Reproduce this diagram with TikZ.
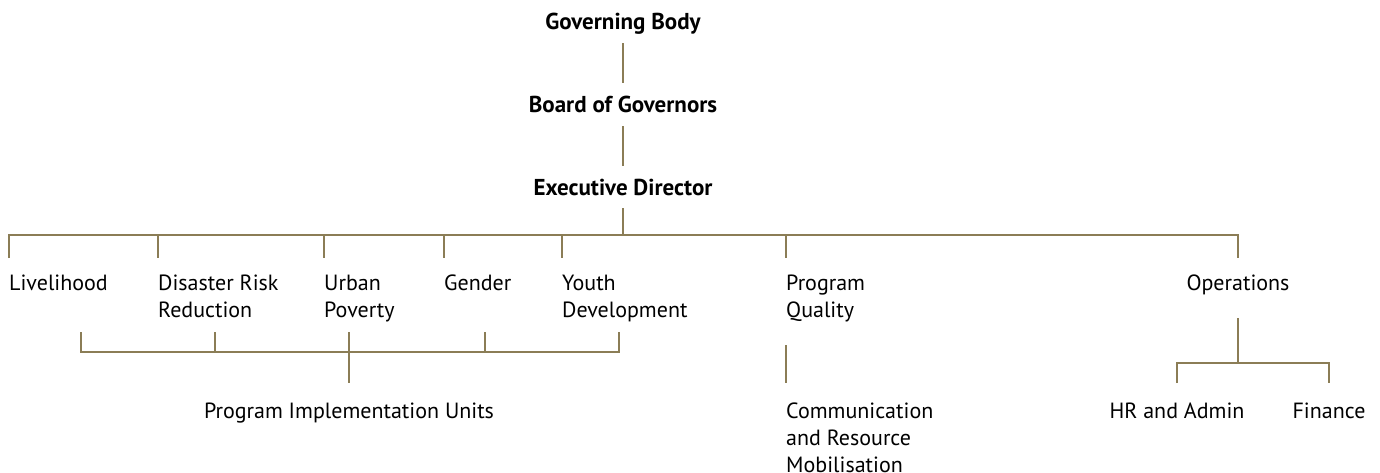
\documentclass[tikz,border=0pt]{standalone}
\usepackage{fontspec}
\setmainfont{PT Sans}
\usetikzlibrary{positioning}
\definecolor{orgline}{RGB}{139,125,86}
\tikzset{
  link/.style={draw=orgline, line width=2.6pt},
  head/.style={font=\fontsize{23}{27}\selectfont\bfseries, inner sep=0pt, text height=16pt, text depth=5pt, anchor=base},
  vlink/.style={link, shorten <=8pt, shorten >=14pt},
  unit/.style={font=\fontsize{22}{27}\selectfont, align=left, inner xsep=0pt, inner ysep=16.5pt, anchor=north west},
  cunit/.style={unit, align=center, anchor=north},
  low/.style={inner ysep=19.5pt},
}
\begin{document}
\begin{tikzpicture}[x=1pt, y=-1pt]
    \useasboundingbox (0,0) rectangle (1380,473);
    % tete
    \node[head] (gov)   at (623,30)  {Governing Body};
    \node[head] (board) at (623,113) {Board of Governors};
    \node[head] (exec)  at (623,196) {Executive Director};
    \draw[vlink] (gov.south) -- (board.north);
    \draw[vlink] (board.south) -- (exec.north);
    \coordinate (bus) at (623,235);
    \draw[link, shorten <=7pt] (exec.south) -- (bus);
    % departements
    \node[unit]  (liv) at (9,258)   {Livelihood};
    \node[unit]  (drr) at (158,258) {Disaster Risk\\Reduction};
    \node[unit]  (urb) at (324,258) {Urban\\Poverty};
    \node[unit]  (gen) at (444,258) {Gender};
    \node[unit]  (yth) at (562,258) {Youth\\Development};
    \node[unit]  (pq)  at (786,258) {Program\\Quality};
    \node[cunit] (ops) at (1238,258) {Operations};
    \draw[link] (liv.north west) -- (liv.north west |- bus) -- (ops.north |- bus) -- (ops.north);
    \foreach \n in {drr,urb,gen,yth,pq}
        \draw[link] (\n.north west |- bus) -- (\n.north west);
    % unites de programme
    \node[cunit, low] (piu) at (349,383) {Program Implementation Units};
    \coordinate (piubar) at (349,352);
    \foreach \x in {81,215,349,485,619}
        \coordinate (top\x) at (\x,332);
    \draw[link] (top81) -- (top81 |- piubar) -- (top619 |- piubar) -- (top619);
    \foreach \x in {215,485}
        \draw[link] (top\x) -- (top\x |- piubar);
    \draw[link] (top349) -- (piu.north);
    % qualite
    \node[unit, low] (comm) at (786,383) {Communication\\and Resource\\Mobilisation};
    \draw[link, shorten <=7pt] (pq.south west) -- (comm.north west);
    % operations
    \node[cunit, low] (hr)  at (1177,383) {HR and Admin};
    \node[cunit, low] (fin) at (1329,383) {Finance};
    \coordinate (opsbar) at (1238,363);
    \draw[link, shorten <=7pt] (ops.south) -- (opsbar);
    \draw[link] (hr.north) -- (hr.north |- opsbar) -- (fin.north |- opsbar) -- (fin.north);
\end{tikzpicture}
\end{document}
